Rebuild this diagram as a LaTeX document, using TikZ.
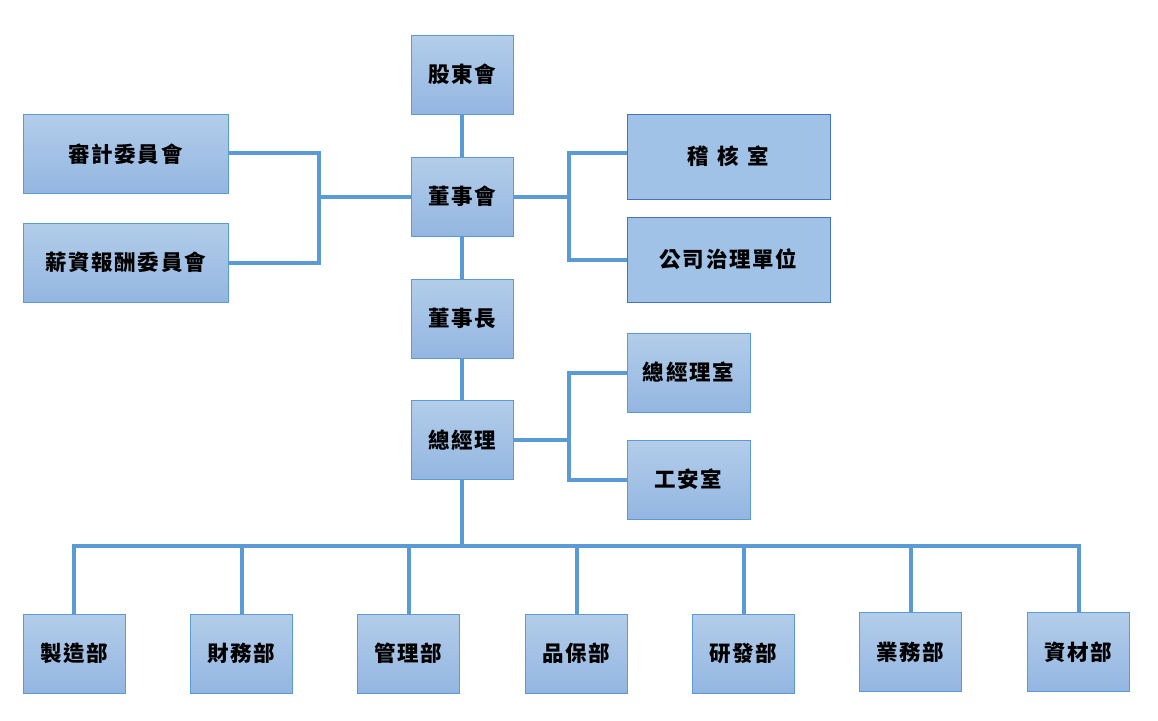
\documentclass[tikz,border=0pt]{standalone}
\usepackage{fontspec}
\newfontfamily\cjk[LetterSpace=8]{Noto Sans CJK TC}
\definecolor{linec}{HTML}{5B9BD5}
\definecolor{topc}{HTML}{B3CDEA}
\definecolor{botc}{HTML}{93B6E1}
\definecolor{flatc}{HTML}{A0C2E7}
\definecolor{bord2}{HTML}{4472C4}
\tikzset{
  box/.style={draw=linec, line width=1pt, top color=topc, bottom color=botc, minimum width=#1, minimum height=79pt, inner sep=0pt, font=\cjk\bfseries\fontsize{21.5}{25}\selectfont},
  box/.default=102pt,
  flatbox/.style={draw=bord2, line width=1pt, fill=flatc, minimum width=203pt, minimum height=85pt, inner sep=0pt, font=\cjk\bfseries\fontsize{21.5}{25}\selectfont},
  conn/.style={draw=linec, line width=4pt},
}
\begin{document}
\begin{tikzpicture}[x=1pt,y=-1pt]
\useasboundingbox (0,0) rectangle (1158,720);
% center column
\node[box] (gd) at (462,74.5) {股東會};
\node[box] (bd) at (462,196.5) {董事會};
\node[box] (ch) at (462,318.5) {董事長};
\node[box] (gm) at (462,440) {總經理};
% left committees
\node[box=205pt] (au) at (125.5,154) {審計委員會};
\node[box=205pt] (pa) at (125.5,262.5) {薪資報酬委員會};
% right units
\node[flatbox] (ia) at (728.5,156.5) {稽\hspace{0.4em}核\hspace{0.4em}室};
\node[flatbox] (cg) at (728.5,259.5) {公司治理單位};
\node[box=123pt] (go) at (688.5,372.5) {總經理室};
\node[box=123pt] (sa) at (688.5,479.5) {工安室};
% departments
\node[box] (d1) at (74,653.5) {製造部};
\node[box] (d2) at (241.5,653.5) {財務部};
\node[box] (d3) at (408.5,653.5) {管理部};
\node[box] (d4) at (576.5,653.5) {品保部};
\node[box] (d5) at (743.5,653.5) {研發部};
\node[box] (d6) at (910.5,652) {業務部};
\node[box] (d7) at (1078.5,652) {資材部};
% coordinates
\coordinate (lj) at (319,196.5);
\coordinate (rj) at (569,196.5);
\coordinate (gj) at (569,440);
\coordinate (bus) at (462,546);
% connectors
\draw[conn] (gd.south) -- (bd.north);
\draw[conn] (bd.south) -- (ch.north);
\draw[conn] (ch.south) -- (gm.north);
\draw[conn] (bd.west) -- (lj);
\draw[conn] (au.east |- 0,153) -| (lj |- 0,263) -- (pa.east |- 0,263);
\draw[conn] (bd.east) -- (rj);
\draw[conn] (ia.west |- 0,153) -| (rj |- 0,260) -- (cg.west |- 0,260);
\draw[conn] (gm.east) -- (gj);
\draw[conn] (go.west |- 0,373) -| (gj |- 0,480) -- (sa.west |- 0,480);
\draw[conn] (gm.south) -- (bus);
\draw[conn] (d1.north) |- (bus);
\draw[conn] (d7.north) |- (bus);
\foreach \d in {d2,d3,d4,d5,d6} \draw[conn] (\d.north) -- (\d.north |- bus);
\end{tikzpicture}
\end{document}
